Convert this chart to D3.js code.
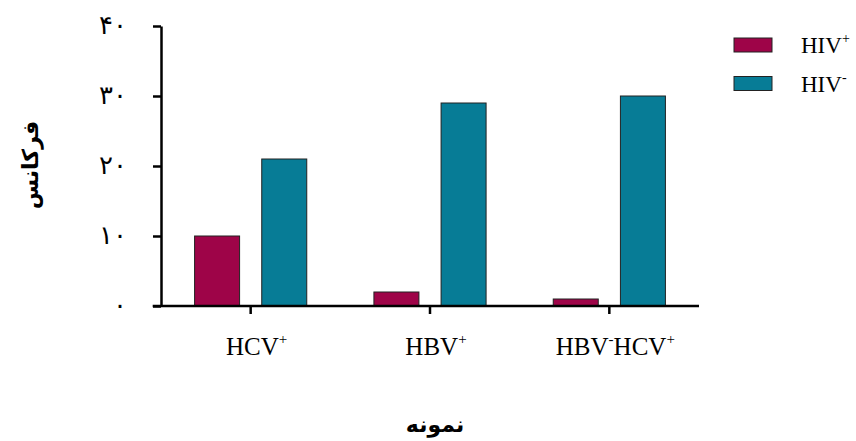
<!DOCTYPE html>
<meta charset="utf-8">
<style>
    body { margin: 0; background: #fff; }
    .axis path, .axis line { stroke: #000; stroke-width: 2.5; }
    .ytick { font: 26px "DejaVu Sans", serif; }
    .cat { font: 25px "Liberation Serif", serif; }
    .leg { font: 23px "Liberation Serif", serif; }
    .title { font: bold 22px "DejaVu Sans", sans-serif; }
    .bar { stroke: #222; stroke-width: 1; }
</style>
<body>
<script src="https://d3js.org/d3.v7.min.js"></script>
<script>
    // data
    var categories = ["HCV", "HBV", "HBV-HCV"];
    var catLabels = [
        [["HCV", ""], ["+", "sup"]],
        [["HBV", ""], ["+", "sup"]],
        [["HBV", ""], ["-", "sup"], ["HCV", ""], ["+", "sup"]]
    ];
    var series = ["HIV+", "HIV-"];
    var hivPos = [10, 2, 1];
    var hivNeg = [21, 29, 30];
    var yTicks = [0, 10, 20, 30, 40];
    var yTickLabels = ["۰", "۱۰", "۲۰", "۳۰", "۴۰"];
    var colors = ["#9e0448", "#077c96"];

    var width = 856, height = 441;
    var svg = d3.select("body").append("svg")
        .attr("width", width)
        .attr("height", height);

    var x0 = d3.scaleBand().domain(categories).range([161, 699])
        .paddingInner(0).paddingOuter(0);
    var x1 = d3.scaleBand().domain(series).range([0, x0.bandwidth()])
        .paddingInner(0.33).paddingOuter(0.5);
    var y = d3.scaleLinear().domain([0, 40]).range([306, 26]);

    var rows = categories.map(function (c, i) {
        return { cat: c, vals: [hivPos[i], hivNeg[i]] };
    });

    // bars
    var g = svg.append("g").selectAll("g")
        .data(rows)
        .enter().append("g")
        .attr("transform", d => "translate(" + x0(d.cat) + ",0)");
    g.selectAll("rect")
        .data(d => d.vals.map((v, j) => ({ s: series[j], v: v, j: j })))
        .enter().append("rect")
        .attr("class", "bar")
        .attr("x", d => x1(d.s))
        .attr("width", x1.bandwidth())
        .attr("y", d => y(d.v))
        .attr("height", d => y(0) - y(d.v))
        .attr("fill", d => colors[d.j]);

    // y axis
    var yAxis = svg.append("g")
        .attr("class", "axis")
        .attr("transform", "translate(161,0)")
        .call(d3.axisLeft(y).tickValues(yTicks).tickSize(8).tickSizeOuter(0)
            .tickFormat((d, i) => yTickLabels[i]));
    yAxis.selectAll("text").attr("class", "ytick").attr("x", -34).attr("dy", "0.3em").attr("fill", "#000");

    // x axis
    var xAxis = svg.append("g")
        .attr("class", "axis")
        .attr("transform", "translate(0,306)")
        .call(d3.axisBottom(x0).tickSize(8).tickSizeOuter(0).tickFormat(""));
    xAxis.select(".domain").attr("d", "M152.7,0H699");

    // category labels with superscripts
    var lab = svg.append("g").selectAll("text")
        .data(categories)
        .enter().append("text")
        .attr("class", "cat")
        .attr("text-anchor", "middle")
        .attr("x", d => x0(d) + x0.bandwidth() / 2 + 6)
        .attr("y", 355);
    lab.each(function (d, i) {
        var t = d3.select(this);
        catLabels[i].forEach(function (p) {
            var sp = t.append("tspan").text(p[0]);
            if (p[1] === "sup") sp.attr("font-size", 15).attr("dy", -11);
            else if (t.selectAll("tspan").size() > 1) sp.attr("dy", 11);
        });
    });

    // legend
    var legend = svg.append("g").selectAll("g")
        .data(series)
        .enter().append("g")
        .attr("transform", (d, i) => "translate(734," + (38 + i * 38.5) + ")");
    legend.append("rect")
        .attr("class", "bar")
        .attr("width", 38)
        .attr("height", 14)
        .attr("fill", (d, i) => colors[i]);
    var lt = legend.append("text")
        .attr("class", "leg")
        .attr("x", 67)
        .attr("y", 15);
    lt.append("tspan").text("HIV");
    lt.append("tspan").text(d => d.slice(3)).attr("font-size", 14).attr("dy", -10);

    // axis titles
    svg.append("text")
        .attr("class", "title")
        .attr("text-anchor", "middle")
        .attr("transform", "translate(38,165) rotate(-90)")
        .text("فرکانس");
    svg.append("text")
        .attr("class", "title")
        .attr("text-anchor", "middle")
        .attr("x", 435)
        .attr("y", 432)
        .text("نمونه");
</script>
</body>
